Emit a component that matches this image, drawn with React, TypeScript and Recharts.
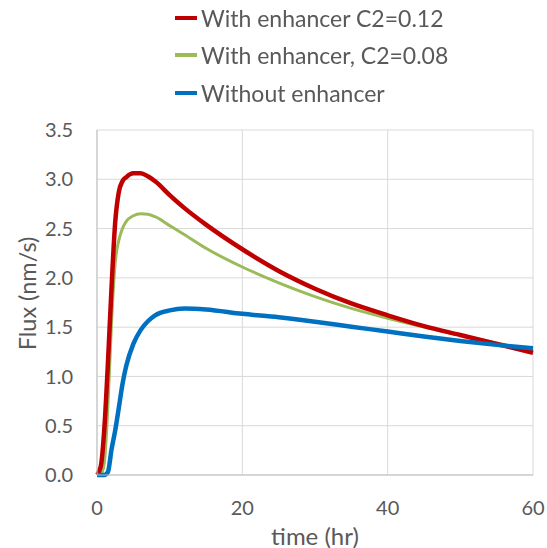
import React from 'react';
import {
  LineChart,
  Line,
  XAxis,
  YAxis,
  CartesianGrid,
  Legend,
  Label,
} from 'recharts';

// time points (hr)
const times = [0, 0.5, 1, 1.5, 2, 2.5, 3, 3.5, 4, 5, 6, 7, 8, 10, 12, 15, 20, 25, 30, 35, 40, 45, 50, 55, 60];

// flux (nm/s) for each series
const fluxC2012 = [0, 0.08, 0.46, 1.13, 1.9, 2.56, 2.87, 2.98, 3.02, 3.06, 3.06, 3.03, 2.98, 2.84, 2.71, 2.54, 2.29, 2.07, 1.89, 1.74, 1.62, 1.51, 1.42, 1.33, 1.24];
const fluxC2008 = [0, 0, 0.12, 0.7, 1.55, 2.15, 2.38, 2.5, 2.57, 2.63, 2.65, 2.645, 2.62, 2.53, 2.44, 2.3, 2.11, 1.95, 1.81, 1.69, 1.59, 1.5, 1.42, 1.34, 1.26];
const fluxNone = [0, 0, 0, 0.03, 0.26, 0.45, 0.68, 0.92, 1.1, 1.33, 1.47, 1.56, 1.62, 1.67, 1.69, 1.68, 1.635, 1.6, 1.555, 1.505, 1.455, 1.405, 1.36, 1.32, 1.285];

const xTicks = [0, 20, 40, 60];
const yTicks = [0, 0.5, 1, 1.5, 2, 2.5, 3, 3.5];

const legendOrder = ['With enhancer C2=0.12', 'With enhancer, C2=0.08', 'Without enhancer'];

const data = times.map((t, i) => ({
  t,
  c012: fluxC2012[i],
  c008: fluxC2008[i],
  none: fluxNone[i],
}));

const FONT = 'Lato, "Open Sans", sans-serif';
const TEXT = '#595959';

const CustomLegend = ({ payload }: any) => {
  const items = [...(payload || [])].sort(
    (a: any, b: any) => legendOrder.indexOf(a.value) - legendOrder.indexOf(b.value)
  );
  return (
    <div style={{ fontFamily: FONT }}>
      {items.map((item: any) => (
        <div key={item.value} style={{ display: 'flex', alignItems: 'center', height: 37.5 }}>
          <div style={{ width: 22, height: 4, background: item.color, marginRight: 4 }} />
          <span style={{ color: TEXT, fontSize: 23 }}>{item.value}</span>
        </div>
      ))}
    </div>
  );
};

const App: React.FC = () => {
  return (
    <div style={{ position: 'fixed', left: 0, top: 0, background: '#fff' }}>
      <LineChart
        width={547}
        height={548}
        data={data}
        margin={{ top: 130, right: 14, left: 0, bottom: 0 }}
      >
        <CartesianGrid stroke="#d9d9d9" strokeWidth={1} />
        <XAxis
          type="number"
          dataKey="t"
          domain={[0, 60]}
          ticks={xTicks}
          height={73}
          tickSize={0}
          tickMargin={26}
          stroke="#bfbfbf"
          tick={{ fill: TEXT, fontSize: 20, fontFamily: FONT }}
        >
          <Label
            content={({ viewBox }: any) => (
              <text
                x={viewBox.x + viewBox.width / 2}
                y={viewBox.y + 60}
                textAnchor="middle"
                dominantBaseline="central"
                fill={TEXT}
                fontSize={24}
                fontFamily={FONT}
              >
                time (hr)
              </text>
            )}
          />
        </XAxis>
        <YAxis
          type="number"
          domain={[0, 3.5]}
          ticks={yTicks}
          width={97}
          tickSize={0}
          tickMargin={24}
          stroke="#bfbfbf"
          tickFormatter={(v: number) => v.toFixed(1)}
          tick={{ fill: TEXT, fontSize: 20, fontFamily: FONT }}
        >
          <Label
            content={({ viewBox }: any) => {
              const cx = 27;
              const cy = viewBox.y + viewBox.height / 2 - 9;
              return (
                <text
                  x={cx}
                  y={cy}
                  transform={`rotate(-90 ${cx} ${cy})`}
                  textAnchor="middle"
                  dominantBaseline="central"
                  fill={TEXT}
                  fontSize={23.5}
                  fontFamily={FONT}
                >
                  Flux (nm/s)
                </text>
              );
            }}
          />
        </YAxis>
        <Legend
          layout="vertical"
          align="center"
          verticalAlign="middle"
          content={<CustomLegend />}
          wrapperStyle={{ top: -1, left: 175, width: 370 }}
        />
        <Line
          type="monotone"
          dataKey="c008"
          name="With enhancer, C2=0.08"
          stroke="#9BBB59"
          strokeWidth={3}
          dot={false}
          isAnimationActive={false}
        />
        <Line
          type="monotone"
          dataKey="c012"
          name="With enhancer C2=0.12"
          stroke="#C00000"
          strokeWidth={4.5}
          dot={false}
          isAnimationActive={false}
        />
        <Line
          type="monotone"
          dataKey="none"
          name="Without enhancer"
          stroke="#0070C0"
          strokeWidth={4.5}
          dot={false}
          isAnimationActive={false}
        />
      </LineChart>
    </div>
  );
};

export default App;
